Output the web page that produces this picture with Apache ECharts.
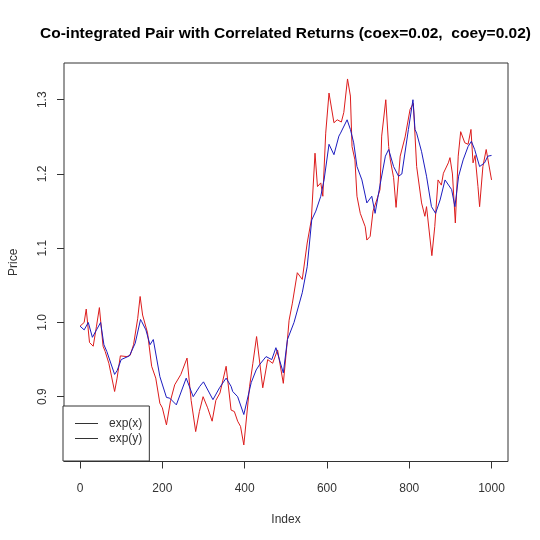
<!DOCTYPE html>
<html>
<head>
<meta charset="utf-8">
<script src="https://cdn.jsdelivr.net/npm/echarts@6.0.0/dist/echarts.min.js"></script>
<style>
html,body{margin:0;padding:0;background:#fff;}
#chart{width:540px;height:540px;}
</style>
</head>
<body>
<div id="chart"></div>
<script>
// exp(x) – red series: index positions and values
var expXIndex = [
0,10,15,23,32,40,47,56,61,70,84,90,98,114,122,130,140,146,152,164,
174,184,194,200,210,220,230,245,260,270,281,290,299,310,321,330,340,355,367,375,
383,390,398,412,420,429,444,456,468,480,494,504,508,516,528,540,552,562,571,577,
585,590,597,605,617,625,635,641,650,657,661,668,673,681,693,697,705,712,721,729,
733,743,750,754,762,768,778,790,802,810,818,830,838,842,855,862,870,878,883,895,
899,905,912,919,925,935,943,950,955,960,967,971,979,987,1000
];
var expX = [
0.995,1.000,1.018,0.973,0.968,0.995,1.020,0.968,0.961,0.945,0.907,0.925,0.955,0.954,0.956,0.970,1.005,1.035,1.010,0.986,
0.941,0.925,0.891,0.885,0.862,0.895,0.916,0.930,0.952,0.895,0.853,0.880,0.900,0.885,0.867,0.895,0.905,0.941,0.882,0.880,
0.867,0.860,0.835,0.914,0.945,0.981,0.912,0.950,0.945,0.963,0.918,0.977,1.003,1.026,1.067,1.058,1.107,1.138,1.228,1.183,
1.188,1.170,1.255,1.309,1.269,1.273,1.270,1.283,1.328,1.305,1.237,1.219,1.170,1.147,1.129,1.111,1.116,1.150,1.165,1.179,
1.251,1.300,1.237,1.219,1.195,1.155,1.224,1.250,1.287,1.295,1.210,1.161,1.143,1.156,1.090,1.129,1.192,1.185,1.201,1.215,
1.222,1.200,1.134,1.224,1.257,1.242,1.240,1.260,1.215,1.225,1.183,1.156,1.210,1.233,1.192
];

// exp(y) – blue series
var expYIndex = [
0,10,20,30,40,50,58,65,84,90,100,120,134,147,150,160,170,178,194,210,
218,234,258,275,291,300,323,339,355,367,371,383,398,416,428,436,452,466,476,494,
504,520,540,552,563,573,585,593,605,617,629,633,649,657,665,673,685,697,709,717,
729,742,750,762,774,782,798,809,814,818,830,842,854,864,875,887,903,911,920,931,
943,951,959,971,983,991,1000
];
var expY = [
0.995,0.990,1.000,0.980,0.990,1.000,0.970,0.961,0.930,0.935,0.950,0.955,0.972,1.004,1.001,0.990,0.970,0.977,0.927,0.899,
0.898,0.889,0.925,0.900,0.914,0.920,0.896,0.912,0.925,0.914,0.907,0.900,0.876,0.919,0.936,0.943,0.954,0.950,0.966,0.932,
0.977,1.000,1.040,1.075,1.138,1.150,1.170,1.192,1.240,1.226,1.251,1.255,1.273,1.260,1.242,1.210,1.192,1.161,1.170,1.147,
1.185,1.224,1.233,1.210,1.197,1.200,1.260,1.300,1.260,1.255,1.230,1.197,1.156,1.147,1.165,1.192,1.179,1.156,1.197,1.219,
1.237,1.244,1.233,1.210,1.215,1.224,1.225
];

var xTicks = [0, 200, 400, 600, 800, 1000];
var yTicks = [0.9, 1.0, 1.1, 1.2, 1.3];
var seriesNames = ['exp(x)', 'exp(y)'];
var titleText = 'Co-integrated Pair with Correlated Returns (coex=0.02,  coey=0.02)';

function pairs(idx, vals) {
  return idx.map(function (ix, i) { return [ix, vals[i]]; });
}

var FONT = '"Liberation Sans", Arial, sans-serif';
var chart = echarts.init(document.getElementById('chart'), null, {renderer: 'canvas'});
chart.setOption({
  animation: false,
  backgroundColor: '#ffffff',
  graphic: [{
    type: 'text', x: 285.5, y: 34,
    style: {
      text: titleText, textAlign: 'center', textVerticalAlign: 'middle',
      font: 'bold 15.5px ' + FONT, fill: '#000'
    }
  }],
  grid: {
    left: 63, right: 32, top: 63, bottom: 78.5,
    show: true, borderColor: '#333', borderWidth: 1, backgroundColor: 'transparent'
  },
  xAxis: {
    type: 'value', min: -39, max: 1040,
    name: 'Index', nameLocation: 'middle', nameGap: 52,
    nameTextStyle: {fontFamily: FONT, fontSize: 12, color: '#333'},
    axisLine: {show: false, onZero: false},
    splitLine: {show: false},
    axisTick: {show: true, inside: false, length: 7, customValues: xTicks, lineStyle: {color: '#333'}},
    axisLabel: {
      customValues: xTicks, margin: 21, fontFamily: FONT, fontSize: 12, color: '#333',
      formatter: function (v) { return String(v); }
    }
  },
  yAxis: {
    type: 'value', min: 0.8127, max: 1.3495,
    name: 'Price', nameLocation: 'middle', nameGap: 44,
    nameTextStyle: {fontFamily: FONT, fontSize: 12, color: '#333'},
    axisLine: {show: false, onZero: false},
    splitLine: {show: false},
    axisTick: {show: true, inside: false, length: 7, customValues: yTicks, lineStyle: {color: '#333'}},
    axisLabel: {
      customValues: yTicks, rotate: 90, margin: 15,
      fontFamily: FONT, fontSize: 12, color: '#333',
      formatter: function (v) { return Number(v).toFixed(1); }
    }
  },
  legend: {
    orient: 'vertical', left: 63, top: 406,
    data: seriesNames,
    icon: 'rect', itemWidth: 23, itemHeight: 1, itemGap: 0,
    itemStyle: {color: '#333'},
    padding: [10, 7, 15, 12],
    borderColor: '#333', borderWidth: 1, borderRadius: 0,
    backgroundColor: '#fff',
    selectedMode: false,
    textStyle: {fontFamily: FONT, fontSize: 12, color: '#333', lineHeight: 15, padding: [0, 0, 0, 6]}
  },
  series: [
    {
      name: seriesNames[0], type: 'line', data: pairs(expXIndex, expX),
      symbol: 'none', showSymbol: false,
      lineStyle: {color: '#dd1c1c', width: 1}, itemStyle: {color: '#dd1c1c'}
    },
    {
      name: seriesNames[1], type: 'line', data: pairs(expYIndex, expY),
      symbol: 'none', showSymbol: false,
      lineStyle: {color: '#1c1cc0', width: 1}, itemStyle: {color: '#1c1cc0'}
    }
  ]
});
</script>
</body>
</html>
